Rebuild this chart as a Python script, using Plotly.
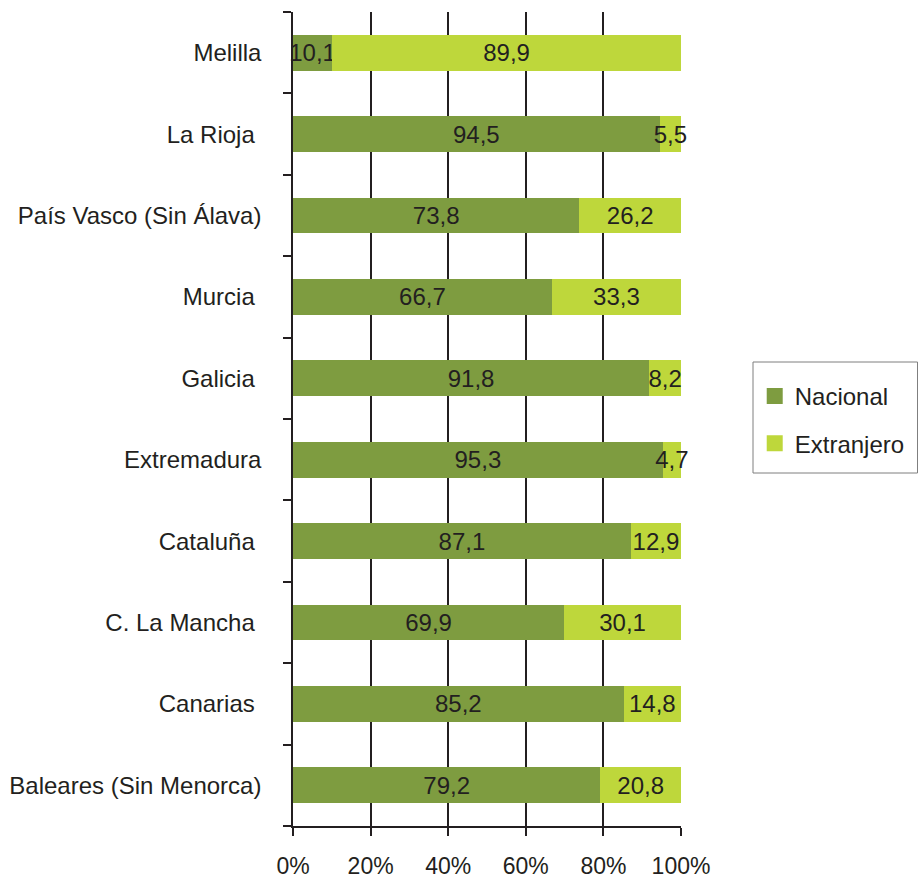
import plotly.graph_objects as go

regions = ["Baleares (Sin Menorca)", "Canarias ", "C. La Mancha ", "Cataluña ", "Extremadura",
           "Galicia ", "Murcia ", "País Vasco (Sin Álava)", "La Rioja ", "Melilla"]
nacional = [79.2, 85.2, 69.9, 87.1, 95.3, 91.8, 66.7, 73.8, 94.5, 10.1]
extranjero = [20.8, 14.8, 30.1, 12.9, 4.7, 8.2, 33.3, 26.2, 5.5, 89.9]
series_names = ["Nacional", "Extranjero"]
series_colors = ["#7E9C40", "#BED73B"]
x_ticks = [0, 20, 40, 60, 80, 100]
x_ticklabels = ["0%", "20%", "40%", "60%", "80%", "100%"]

def fmt(v):
    return f"{v:.1f}".replace(".", ",")

font = "Liberation Sans, Arial, sans-serif"
ink = "#231F20"
fig = go.Figure()
for name, vals, col in zip(series_names, [nacional, extranjero], series_colors):
    fig.add_trace(go.Bar(y=regions, x=vals, orientation="h", name=name,
                         showlegend=False, cliponaxis=False,
                         marker=dict(color=col, line=dict(width=0)),
                         text=[fmt(v) for v in vals], textposition="inside",
                         insidetextanchor="middle", constraintext="none", textangle=0,
                         textfont=dict(size=24, color=ink, family=font)))
# legend entries
for i, (name, col) in enumerate(zip(series_names, series_colors)):
    fig.add_trace(go.Scatter(x=[None], y=[None], mode="markers", name=name,
                             legendgroup=f"g{i}",
                             marker=dict(symbol="square", size=16, color=col)))

fig.add_shape(type="rect", xref="paper", yref="paper",
              x0=(753 - 293) / 388, x1=(917.5 - 293) / 388,
              y0=1 - (473 - 12) / 814, y1=1 - (362 - 12) / 814,
              line=dict(color="#7f7f7f", width=1), fillcolor="rgba(0,0,0,0)")

fig.update_layout(
    width=919, height=878,
    barmode="stack", bargap=0.56,
    paper_bgcolor="white", plot_bgcolor="white",
    margin=dict(l=293, r=238, t=12, b=52, autoexpand=False),
    font=dict(family=font, size=24, color=ink),
    showlegend=True,
    legend=dict(x=1.19, y=1 - (374 - 12) / 814, xanchor="left", yanchor="top",
                borderwidth=0, bgcolor="rgba(0,0,0,0)",
                traceorder="grouped", tracegroupgap=13,
                font=dict(size=24, color=ink), itemsizing="trace"),
    xaxis=dict(range=[0, 100], tickvals=x_ticks, ticktext=x_ticklabels,
               showgrid=True, gridcolor=ink, gridwidth=1.5,
               showline=True, linecolor=ink, linewidth=1.5,
               ticks="outside", ticklen=8, tickcolor=ink, tickwidth=1.5,
               ticklabelstandoff=11, zeroline=False,
               tickfont=dict(size=23)),
    yaxis=dict(categoryorder="array", categoryarray=regions,
               showline=True, linecolor=ink, linewidth=1.5,
               ticks="outside", ticklen=8, tickcolor=ink, tickwidth=1.5,
               tickson="boundaries", ticklabelstandoff=25,
               showgrid=False, tickfont=dict(size=24)),
)
fig.write_html("out.html", config={"displayModeBar": False},
               post_script="document.body.style.margin='0';document.body.style.overflow='hidden';")
